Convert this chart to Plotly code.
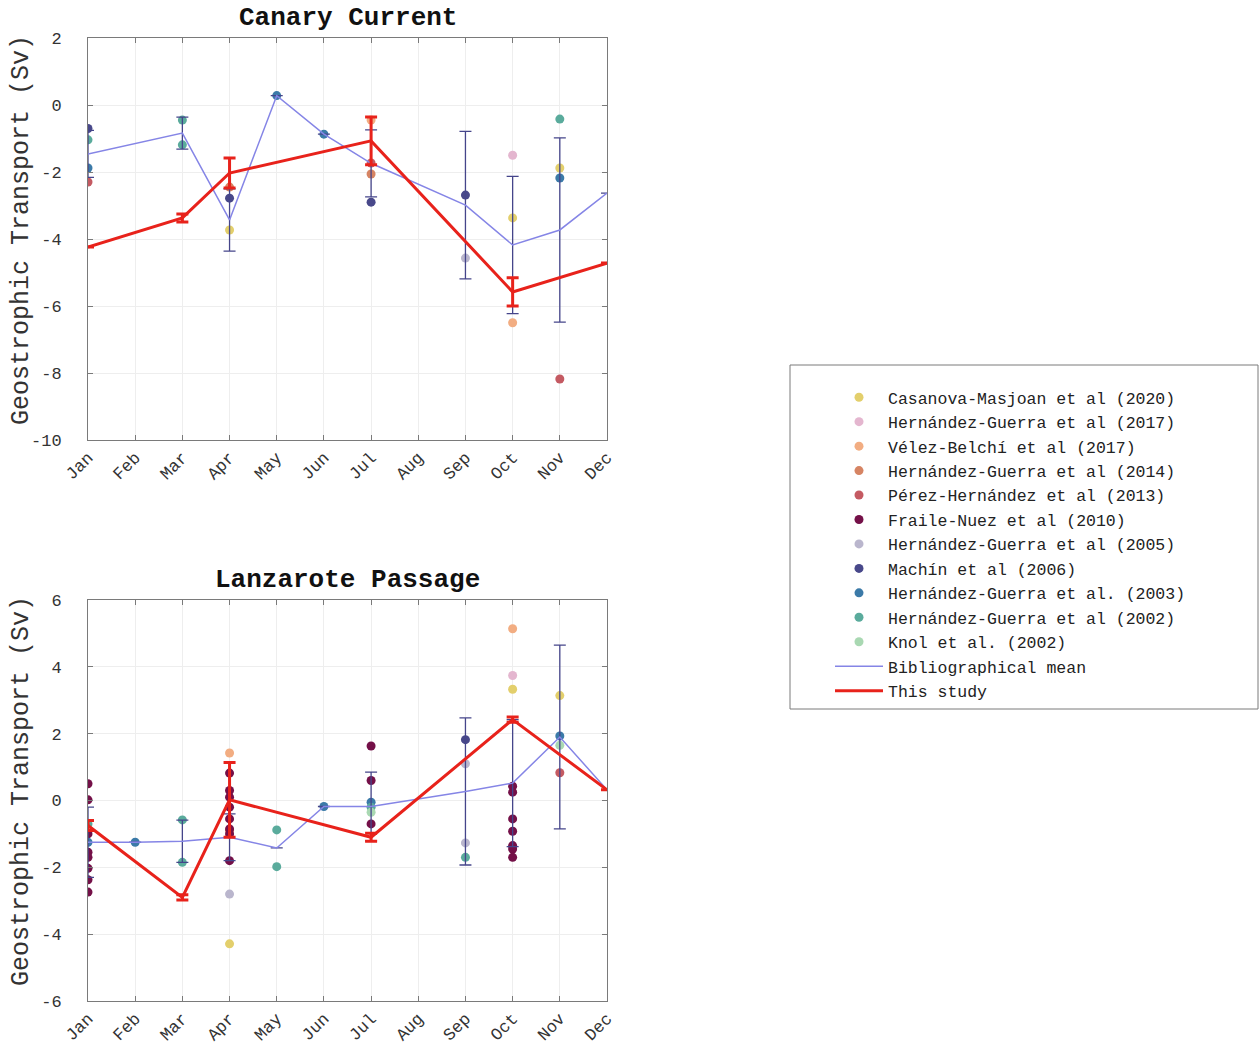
import plotly.graph_objects as go

# Month axis
month_labels = ["Jan", "Feb", "Mar", "Apr", "May", "Jun", "Jul", "Aug", "Sep", "Oct", "Nov", "Dec"]
month_nums = list(range(1, 13))

# Y tick labels
cc_ticks = [-10, -8, -6, -4, -2, 0, 2]
lp_ticks = [-6, -4, -2, 0, 2, 4, 6]

# Published estimates
studies = [
    "Casanova-Masjoan et al (2020)",
    "Hernández-Guerra et al (2017)",
    "Vélez-Belchí et al (2017)",
    "Hernández-Guerra et al (2014)",
    "Pérez-Hernández et al (2013)",
    "Fraile-Nuez et al (2010)",
    "Hernández-Guerra et al (2005)",
    "Machín et al (2006)",
    "Hernández-Guerra et al. (2003)",
    "Hernández-Guerra et al (2002)",
    "Knol et al. (2002)",
]
study_colors = [
    "#e3cf6c", "#e4b6cf", "#f2ad82", "#d68463", "#c45a62", "#741048",
    "#bab6cd", "#48488a", "#3b7aa8", "#5aab9c", "#a9d8b2",
]

# Canary Current: month, transport (Sv)
cc_month = [
    [4, 10, 11],
    [10],
    [7, 10],
    [4, 7],
    [1, 7, 11],
    [],
    [9],
    [1, 4, 7, 9],
    [1, 5, 6, 11],
    [1, 3, 3, 11],
    [],
]
cc_value = [
    [-3.73, -3.37, -1.88],
    [-1.50],
    [-0.45, -6.50],
    [-2.45, -2.06],
    [-2.30, -1.73, -8.18],
    [],
    [-4.57],
    [-0.70, -2.78, -2.90, -2.69],
    [-1.88, 0.28, -0.87, -2.18],
    [-1.04, -0.45, -1.19, -0.42],
    [],
]

# Lanzarote Passage: month, transport (Sv)
lp_month = [
    [4, 10, 11],
    [10],
    [4, 10],
    [4],
    [11],
    [1, 1, 1, 1, 1, 1, 1, 1, 4, 4, 4, 4, 4, 4, 4, 4, 7, 7, 7, 10, 10, 10, 10, 10, 10, 10],
    [4, 9, 9],
    [9],
    [1, 2, 6, 7, 11],
    [1, 3, 3, 5, 5, 7, 9],
    [7, 11],
]
lp_value = [
    [-4.29, 3.33, 3.14],
    [3.74],
    [1.42, 5.14],
    [-0.90],
    [0.83],
    [0.50, 0.02, -1.00, -1.55, -1.70, -2.03, -2.37, -2.74,
     0.82, 0.30, 0.10, -0.20, -0.55, -0.85, -1.00, -1.80,
     1.63, 0.60, -0.70,
     0.43, 0.25, -0.55, -0.92, -1.35, -1.45, -1.70],
    [-2.80, 1.10, -1.27],
    [1.82],
    [-1.25, -1.25, -0.18, -0.05, 1.93],
    [-0.70, -0.58, -1.85, -0.88, -1.98, -0.20, -1.70],
    [-0.35, 1.65],
]

# Bibliographical mean with spread
cc_mean_month = [1, 3, 4, 5, 6, 7, 9, 10, 11, 12]
cc_mean_value = [-1.46, -0.84, -3.43, 0.28, -0.87, -1.74, -2.99, -4.18, -3.73, -2.63]
cc_mean_err = [0.70, 0.48, 0.93, 0.0, 0.0, 1.0, 2.2, 2.05, 2.75, 0.0]

lp_mean_month = [1, 2, 3, 4, 5, 6, 7, 9, 10, 11, 12]
lp_mean_value = [-1.25, -1.25, -1.22, -1.10, -1.42, -0.18, -0.18, 0.27, 0.52, 1.90, 0.32]
lp_mean_err = [1.05, 0.0, 0.63, 0.70, 0.0, 0.0, 1.03, 2.2, 1.9, 2.75, 0.0]

# This study
cc_study_month = [1, 3, 4, 7, 10, 12]
cc_study_value = [-4.24, -3.37, -2.03, -1.07, -5.58, -4.72]
cc_study_err = [0.0, 0.12, 0.45, 0.71, 0.42, 0.0]

lp_study_month = [1, 3, 4, 7, 10, 12]
lp_study_value = [-0.75, -2.90, 0.02, -1.10, 2.42, 0.32]
lp_study_err = [0.15, 0.08, 1.12, 0.12, 0.08, 0.0]

FONT = "Liberation Mono"
W, H = 1259, 1057
MEAN_LINE = "#8585e6"
MEAN_ERR = "#45458a"
RED = "#e8221b"

fig = go.Figure()

for i, name in enumerate(studies):
    shown = False
    for xa, ya, mx, vy in (("x", "y", cc_month[i], cc_value[i]), ("x2", "y2", lp_month[i], lp_value[i])):
        if not mx:
            continue
        fig.add_trace(go.Scatter(
            x=mx, y=vy, xaxis=xa, yaxis=ya, mode="markers", name=name,
            legendgroup=name, showlegend=not shown,
            marker=dict(color=study_colors[i], size=9, line=dict(width=0)),
        ))
        shown = True

for xa, ya, mx, vy, ve, show in (("x", "y", cc_mean_month, cc_mean_value, cc_mean_err, True),
                                 ("x2", "y2", lp_mean_month, lp_mean_value, lp_mean_err, False)):
    fig.add_trace(go.Scatter(
        x=mx, y=vy, xaxis=xa, yaxis=ya, mode="lines", name="Bibliographical mean",
        legendgroup="mean", showlegend=show,
        line=dict(color=MEAN_LINE, width=1.5),
        error_y=dict(type="data", array=ve, visible=True, color=MEAN_ERR, thickness=1.3, width=6),
    ))

for xa, ya, mx, vy, ve, show in (("x", "y", cc_study_month, cc_study_value, cc_study_err, True),
                                 ("x2", "y2", lp_study_month, lp_study_value, lp_study_err, False)):
    fig.add_trace(go.Scatter(
        x=mx, y=vy, xaxis=xa, yaxis=ya, mode="lines", name="This study",
        legendgroup="study", showlegend=show,
        line=dict(color=RED, width=3),
        error_y=dict(type="data", array=ve, visible=True, color=RED, thickness=3, width=6),
    ))

x_dom = [88 / W, 607 / W]
top_dom = [(H - 440) / H, (H - 38) / H]
bot_dom = [(H - 1001) / H, (H - 600) / H]

axis_common = dict(
    showline=True, linecolor="#7a7a7a", linewidth=1, mirror="ticks",
    ticks="inside", ticklen=5, tickcolor="#7a7a7a",
    showgrid=True, gridcolor="#eeeeee", gridwidth=1, zeroline=False,
    tickfont=dict(family=FONT, size=17, color="#333333"),
    automargin=False,
)

xaxis_common = dict(axis_common, range=[1, 12], tickvals=month_nums, ticktext=month_labels,
                    tickangle=-45, domain=x_dom)

x_mid = (x_dom[0] + x_dom[1]) / 2


def panel_text(text, x, y, size, color, angle=0):
    return dict(text=text, x=x, y=y, xref="paper", yref="paper", showarrow=False,
                xanchor="center", yanchor="middle", textangle=angle,
                font=dict(family=FONT, size=size, color=color))


fig.update_layout(
    width=W, height=H,
    margin=dict(l=0, r=0, t=0, b=0),
    paper_bgcolor="white", plot_bgcolor="white",
    xaxis=dict(xaxis_common, anchor="y"),
    yaxis=dict(axis_common, domain=top_dom, anchor="x", range=[-10, 2],
               tickvals=cc_ticks, ticktext=[str(t) for t in cc_ticks],
               ticklabelstandoff=22),
    xaxis2=dict(xaxis_common, anchor="y2"),
    yaxis2=dict(axis_common, domain=bot_dom, anchor="x2", range=[-6, 6],
                tickvals=lp_ticks, ticktext=[str(t) for t in lp_ticks],
                ticklabelstandoff=22),
    showlegend=True,
    legend=dict(
        x=830 / W, xanchor="left", y=(H - 380) / H, yanchor="top",
        bgcolor="rgba(0,0,0,0)", borderwidth=0, itemwidth=48,
        font=dict(family=FONT, size=16.5, color="#222222"),
        traceorder="normal", tracegroupgap=0,
    ),
    annotations=[
        panel_text("<b>Canary Current</b>", x_mid, (H - 18) / H, 26, "#111111"),
        panel_text("<b>Lanzarote Passage</b>", x_mid, (H - 580) / H, 26, "#111111"),
        panel_text("Geostrophic Transport (Sv)", 21 / W, (H - 230) / H, 25, "#333333", -90),
        panel_text("Geostrophic Transport (Sv)", 21 / W, (H - 791) / H, 25, "#333333", -90),
    ],
    shapes=[
        dict(type="rect", xref="paper", yref="paper", x0=790 / W, x1=1258 / W,
             y0=(H - 709) / H, y1=(H - 365) / H, line=dict(color="#7a7a7a", width=1),
             fillcolor="rgba(0,0,0,0)"),
    ],
)

fig.write_html("out.html")
